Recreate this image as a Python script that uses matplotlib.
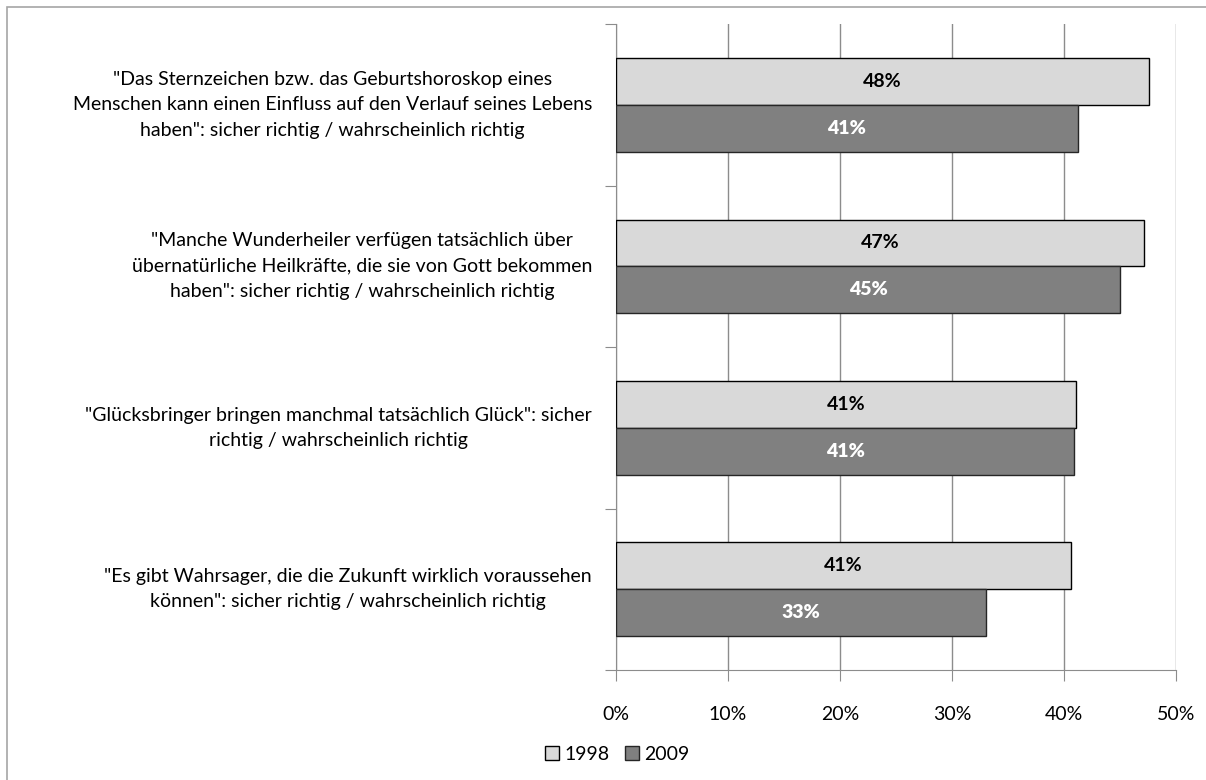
import matplotlib.pyplot as plt
from matplotlib.patches import Rectangle
import numpy as np

plt.rcParams['font.family'] = ['Lato', 'DejaVu Sans']

categories = [
    '"Das Sternzeichen bzw. das Geburtshoroskop eines\nMenschen kann einen Einfluss auf den Verlauf seines Lebens\nhaben": sicher richtig / wahrscheinlich richtig',
    '"Manche Wunderheiler verfügen tatsächlich über\nübernatürliche Heilkräfte, die sie von Gott bekommen\nhaben": sicher richtig / wahrscheinlich richtig',
    '"Glücksbringer bringen manchmal tatsächlich Glück": sicher\nrichtig / wahrscheinlich richtig',
    '"Es gibt Wahrsager, die die Zukunft wirklich voraussehen\nkönnen": sicher richtig / wahrscheinlich richtig',
]
v1998 = [47.6, 47.1, 41.1, 40.6]
v2009 = [41.2, 45.0, 40.9, 33.0]
lab1998 = ['48%', '47%', '41%', '41%']
lab2009 = ['41%', '45%', '41%', '33%']
xticks = [0, 10, 20, 30, 40, 50]

fig = plt.figure(figsize=(12.06, 7.8), dpi=100)
fig.patches.append(Rectangle((0.006, -0.01), 1.2, 1.001, transform=fig.transFigure,
                             fill=False, edgecolor='#a6a6a6', linewidth=1.2))
ax = fig.add_axes([0.5108, 0.141, 0.4644, 0.828])

y = np.arange(len(categories))
h = 0.29
b1 = ax.barh(y - h / 2, v1998, height=h, color='#d9d9d9', edgecolor='black', linewidth=1, label='1998', zorder=3)
b2 = ax.barh(y + h / 2, v2009, height=h, color='#808080', edgecolor='#262626', linewidth=1, label='2009', zorder=3)
ax.bar_label(b1, labels=lab1998, label_type='center', fontsize=14, fontweight='bold', color='black')
ax.bar_label(b2, labels=lab2009, label_type='center', fontsize=14, fontweight='heavy', color='white')

ax.set_xlim(0, 50)
ax.set_ylim(3.5, -0.5)
ax.set_xticks(xticks)
ax.set_xticklabels([f'{t}%' for t in xticks], fontsize=14)
ax.set_yticks(np.arange(-0.5, 4, 1))
ax.set_yticklabels([])
ax.tick_params(axis='y', length=8, color='#8c8c8c', direction='out')
ax.tick_params(axis='x', length=8, color='#8c8c8c', direction='out', pad=18)

# category labels, right aligned block with centred lines
for yi, txt in zip(y, categories):
    ax.text(-0.043, yi, txt, transform=ax.get_yaxis_transform(), ha='right', va='center',
            multialignment='center', linespacing=1.6, fontsize=14)

ax.grid(axis='x', color='#8c8c8c', linewidth=1, zorder=0)
for s in ['top', 'right']:
    ax.spines[s].set_visible(False)
for s in ['left', 'bottom']:
    ax.spines[s].set_color('#8c8c8c')

leg = fig.legend(handles=[b1, b2], labels=['1998', '2009'], loc='center', bbox_to_anchor=(0.512, 0.033),
                 ncol=2, frameon=False, fontsize=14, handlelength=0.7, handleheight=0.7,
                 handletextpad=0.3, columnspacing=0.8)

fig.savefig('out.png', dpi=100)
